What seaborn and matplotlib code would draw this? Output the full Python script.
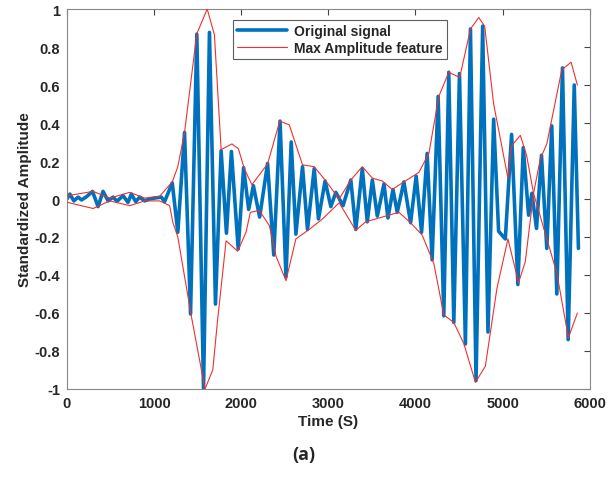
import numpy as np
import pandas as pd
import matplotlib
matplotlib.use("Agg")
import matplotlib.pyplot as plt
import seaborn as sns

# signal extrema (time in s, standardized amplitude)
sig_t = [0, 34, 80, 129, 168, 225, 294, 358, 415, 473, 530, 576, 644, 701, 740, 790,
         835, 892, 950, 1007, 1084, 1121, 1209, 1273, 1350, 1419, 1491, 1568, 1636,
         1705, 1770, 1831, 1888, 1966, 2028, 2086, 2140, 2212, 2303, 2374, 2446, 2514,
         2574, 2628, 2704, 2761, 2838, 2887, 2963, 3029, 3086, 3169, 3258, 3315, 3390,
         3447, 3505, 3562, 3639, 3684, 3742, 3791, 3867, 3944, 4008, 4070, 4134, 4191,
         4260, 4325, 4382, 4440, 4505, 4573, 4631, 4695, 4771, 4832, 4897, 4954, 5031,
         5103, 5175, 5237, 5298, 5336, 5389, 5446, 5507, 5564, 5622, 5687, 5752, 5822,
         5870]
sig_v = [0, 0.026, -0.01, 0.01, -0.005, 0.012, 0.04, -0.04, 0.04, -0.01, 0.01, -0.012,
         0.018, -0.018, 0.026, -0.014, 0.01, -0.01, 0.0, 0.005, 0.01, -0.014, 0.085,
         -0.175, 0.35, -0.605, 0.868, -1.0, 0.877, -0.553, 0.254, -0.18, 0.25, -0.263,
         0.165, -0.055, 0.07, -0.095, 0.187, -0.295, 0.41, -0.41, 0.30, -0.185, 0.17,
         -0.16, 0.16, -0.105, 0.095, -0.04, 0.035, -0.035, 0.1, -0.16, 0.16, -0.12, 0.1,
         -0.09, 0.08, -0.1, 0.05, -0.07, 0.09, -0.125, 0.12, -0.175, 0.24, -0.32, 0.54,
         -0.615, 0.667, -0.65, 0.66, -0.763, 0.895, -0.956, 0.91, -0.70, 0.42, -0.17,
         -0.21, 0.34, -0.45, 0.27, -0.085, 0.03, -0.155, 0.23, -0.26, 0.385, -0.5, 0.69,
         -0.74, 0.6, -0.26]

# max amplitude feature, upper and lower traces
up_t = [0, 301, 492, 721, 892, 1064, 1209, 1273, 1350, 1491, 1610, 1693, 1770, 1894,
        1968, 2037, 2123, 2303, 2443, 2552, 2704, 2838, 2971, 3124, 3258, 3390, 3505,
        3619, 3733, 3867, 4039, 4154, 4268, 4382, 4508, 4631, 4726, 4794, 4897, 5061,
        5103, 5203, 5275, 5355, 5622, 5755, 5858]
up_v = [0.017, 0.04, 0.005, 0.035, 0.005, 0.014, 0.09, 0.17, 0.35, 0.87, 1.0, 0.865,
        0.26, 0.29, 0.265, 0.158, 0.075, 0.185, 0.41, 0.39, 0.18, 0.17, 0.095, 0.0,
        0.1, 0.17, 0.11, 0.095, 0.05, 0.09, 0.14, 0.24, 0.54, 0.667, 0.64, 0.895, 0.955,
        0.91, 0.5, 0.11, 0.28, 0.335, 0.23, 0.03, -0.39, -0.73, -0.6]

lo_t = [0, 301, 492, 721, 892, 1064, 1179, 1216, 1273, 1427, 1585, 1674, 1731, 1827,
        1960, 2056, 2105, 2208, 2323, 2399, 2514, 2628, 2781, 2933, 3124, 3315, 3429,
        3581, 3810, 3944, 4077, 4211, 4325, 4440, 4554, 4688, 4802, 4935, 5061, 5183,
        5260, 5355, 5432, 5507, 5679, 5786, 5858]
lo_v = [-0.017, -0.05, -0.01, -0.035, -0.01, -0.01, -0.035, -0.123, -0.2, -0.614, -1.0,
        -0.9, -0.63, -0.22, -0.275, -0.175, -0.07, -0.06, -0.14, -0.3, -0.43, -0.21,
        -0.16, -0.105, -0.02, -0.165, -0.12, -0.1, -0.07, -0.125, -0.19, -0.34, -0.61,
        -0.65, -0.76, -0.965, -0.88, -0.47, -0.21, -0.44, -0.33, 0.03, 0.21, 0.29, 0.68,
        0.72, 0.6]

x_ticks = [0, 1000, 2000, 3000, 4000, 5000, 6000]
y_ticks = [-1, -0.8, -0.6, -0.4, -0.2, 0, 0.2, 0.4, 0.6, 0.8, 1]
y_labels = ["-1", "-0.8", "-0.6", "-0.4", "-0.2", "0", "0.2", "0.4", "0.6", "0.8", "1"]

sig = pd.DataFrame({"t": sig_t, "v": sig_v})
up = pd.DataFrame({"t": up_t, "v": up_v})
lo = pd.DataFrame({"t": lo_t, "v": lo_v})

sns.set_style("white")
plt.rcParams["font.family"] = ["Liberation Sans", "DejaVu Sans"]

fig = plt.figure(figsize=(6.08, 4.89), dpi=100)
ax = fig.add_axes([0.110, 0.2025, 0.860, 0.777])

sns.lineplot(x="t", y="v", data=sig, ax=ax, color="#0072BD", linewidth=2.6,
             estimator=None, sort=False, label="Original signal", zorder=2)
sns.lineplot(x="t", y="v", data=up, ax=ax, color="#F03030", linewidth=0.8,
             estimator=None, sort=False, label="Max Amplitude feature", zorder=3)
sns.lineplot(x="t", y="v", data=lo, ax=ax, color="#F03030", linewidth=0.8,
             estimator=None, sort=False, zorder=3)

ax.set_xlim(0, 6000)
ax.set_ylim(-1, 1)
ax.set_xticks(x_ticks)
ax.set_xticklabels([str(t) for t in x_ticks], fontsize=10.5, fontweight="bold")
ax.set_yticks(y_ticks)
ax.set_yticklabels(y_labels, fontsize=10.5, fontweight="bold")
ax.tick_params(direction="in", length=4, width=0.8, color="#444444",
               top=True, right=True, pad=5)
for s in ax.spines.values():
    s.set_color("#888888")
    s.set_linewidth(0.8)

ax.set_xlabel("Time (S)", fontsize=11, fontweight="bold", labelpad=3)
ax.set_ylabel("Standardized Amplitude", fontsize=11, fontweight="bold", labelpad=2)

leg = ax.legend(loc="upper left", bbox_to_anchor=(0.305, 0.99), frameon=True,
                fancybox=False, edgecolor="#333333", handlelength=3.6,
                borderpad=0.3, labelspacing=0.2, handletextpad=0.5,
                prop={"weight": "bold", "size": 10})
leg.get_frame().set_linewidth(0.8)

fig.text(0.5, 0.07, "(a)", ha="center", va="center", fontsize=13,
         fontweight="bold", family=["Open Sans", "DejaVu Sans"])

fig.savefig("out.png", dpi=100)
